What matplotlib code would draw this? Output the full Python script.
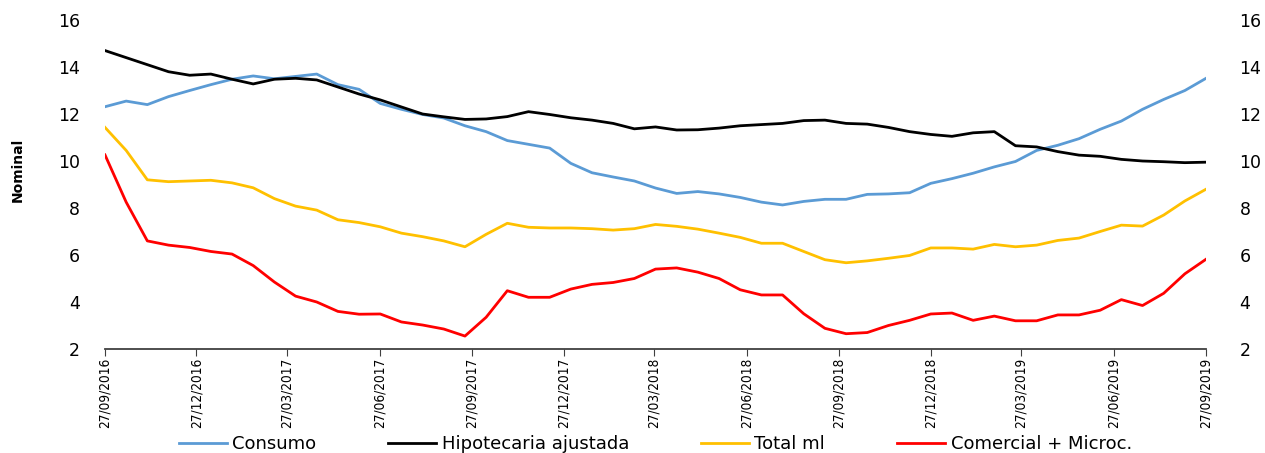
import matplotlib
matplotlib.use("Agg")
import matplotlib.pyplot as plt
import pandas as pd

# fechas cada ~3 semanas entre 27/09/2016 y 27/09/2019
fechas = pd.date_range("2016-09-27", "2019-09-27", periods=53)

consumo = [12.31, 12.55, 12.4, 12.74, 13.0, 13.25, 13.48, 13.62, 13.5, 13.6,
           13.7, 13.25, 13.05, 12.45, 12.2, 11.98, 11.83, 11.5, 11.25, 10.87,
           10.71, 10.55, 9.9, 9.5, 9.32, 9.15, 8.85, 8.62, 8.7, 8.6,
           8.45, 8.25, 8.13, 8.28, 8.37, 8.37, 8.58, 8.6, 8.65, 9.05,
           9.25, 9.48, 9.75, 9.98, 10.45, 10.67, 10.95, 11.35, 11.7, 12.2,
           12.62, 13.0, 13.52]
hipotecaria = [14.7, 14.4, 14.1, 13.8, 13.65, 13.7, 13.48, 13.28, 13.48, 13.52,
               13.45, 13.15, 12.85, 12.6, 12.3, 12.0, 11.88, 11.77, 11.79, 11.89,
               12.1, 11.98, 11.84, 11.74, 11.6, 11.37, 11.45, 11.32, 11.33, 11.4,
               11.5, 11.55, 11.6, 11.72, 11.74, 11.6, 11.57, 11.43, 11.25, 11.13,
               11.05, 11.2, 11.25, 10.65, 10.6, 10.4, 10.25, 10.2, 10.07, 10.0,
               9.97, 9.93, 9.95]
total_ml = [11.43, 10.45, 9.2, 9.12, 9.15, 9.18, 9.07, 8.86, 8.4, 8.08,
            7.91, 7.5, 7.38, 7.2, 6.93, 6.78, 6.6, 6.35, 6.88, 7.35,
            7.18, 7.15, 7.15, 7.12, 7.06, 7.12, 7.3, 7.22, 7.1, 6.93,
            6.75, 6.5, 6.5, 6.15, 5.8, 5.67, 5.75, 5.86, 5.98, 6.3,
            6.3, 6.25, 6.45, 6.35, 6.42, 6.62, 6.72, 7.0, 7.27, 7.23,
            7.7, 8.3, 8.8]
comercial = [10.26, 8.25, 6.6, 6.42, 6.32, 6.15, 6.04, 5.55, 4.85, 4.25,
             4.0, 3.6, 3.48, 3.49, 3.15, 3.02, 2.85, 2.55, 3.35, 4.48,
             4.2, 4.2, 4.55, 4.75, 4.83, 5.0, 5.4, 5.45, 5.27, 5.0,
             4.52, 4.3, 4.3, 3.5, 2.88, 2.65, 2.7, 3.0, 3.22, 3.49,
             3.53, 3.22, 3.4, 3.2, 3.2, 3.45, 3.45, 3.65, 4.1, 3.85,
             4.37, 5.2, 5.82]

ticks_x = ["2016-09-27", "2016-12-27", "2017-03-27", "2017-06-27", "2017-09-27",
           "2017-12-27", "2018-03-27", "2018-06-27", "2018-09-27", "2018-12-27",
           "2019-03-27", "2019-06-27", "2019-09-27"]
ticks_y = [2, 4, 6, 8, 10, 12, 14, 16]

fig = plt.figure(figsize=(12.65, 4.53), dpi=100)
ax = fig.add_axes([0.083, 0.2296, 0.8704, 0.7262])

ax.plot(fechas, consumo, color="#5B9BD5", lw=2.0, label="Consumo")
ax.plot(fechas, hipotecaria, color="black", lw=2.0, label="Hipotecaria ajustada")
ax.plot(fechas, total_ml, color="#FFC000", lw=2.0, label="Total ml")
ax.plot(fechas, comercial, color="#FF0000", lw=2.0, label="Comercial + Microc.")

ax.set_xlim(pd.Timestamp(ticks_x[0]), pd.Timestamp(ticks_x[-1]))
ax.set_ylim(2, 16)

tx = pd.to_datetime(ticks_x)
ax.set_xticks(tx)
ax.set_xticklabels([d.strftime("%d/%m/%Y") for d in tx], rotation=90,
                   family=["Liberation Sans Narrow", "DejaVu Sans"],
                   fontstretch="condensed", fontsize=9.8)
ax.set_yticks(ticks_y)
ax.set_yticklabels([str(v) for v in ticks_y], fontsize=12.5)

for s in ["top", "left", "right"]:
    ax.spines[s].set_visible(False)
ax.spines["bottom"].set_color("#404040")
ax.spines["bottom"].set_linewidth(1.3)
ax.tick_params(axis="x", direction="out", length=5, color="#404040", pad=1)
ax.tick_params(axis="y", left=False, length=0, pad=18)

# eje derecho con la misma escala
ax2 = ax.twinx()
ax2.set_ylim(2, 16)
ax2.set_yticks(ticks_y)
ax2.set_yticklabels([str(v) for v in ticks_y], fontsize=12.5)
ax2.tick_params(axis="y", right=False, length=0, pad=24)
for s in ["top", "left", "right", "bottom"]:
    ax2.spines[s].set_visible(False)

fig.text(0.014, 0.625, "Nominal", rotation=90, ha="center", va="center",
         fontsize=10, fontweight="bold")

fig.legend(handles=ax.get_lines(), loc="center", bbox_to_anchor=(0.518, 0.02),
           ncol=4, frameon=False, fontsize=13, handlelength=2.65,
           columnspacing=4.0, handletextpad=0.3)

fig.savefig("out.png", dpi=100)
